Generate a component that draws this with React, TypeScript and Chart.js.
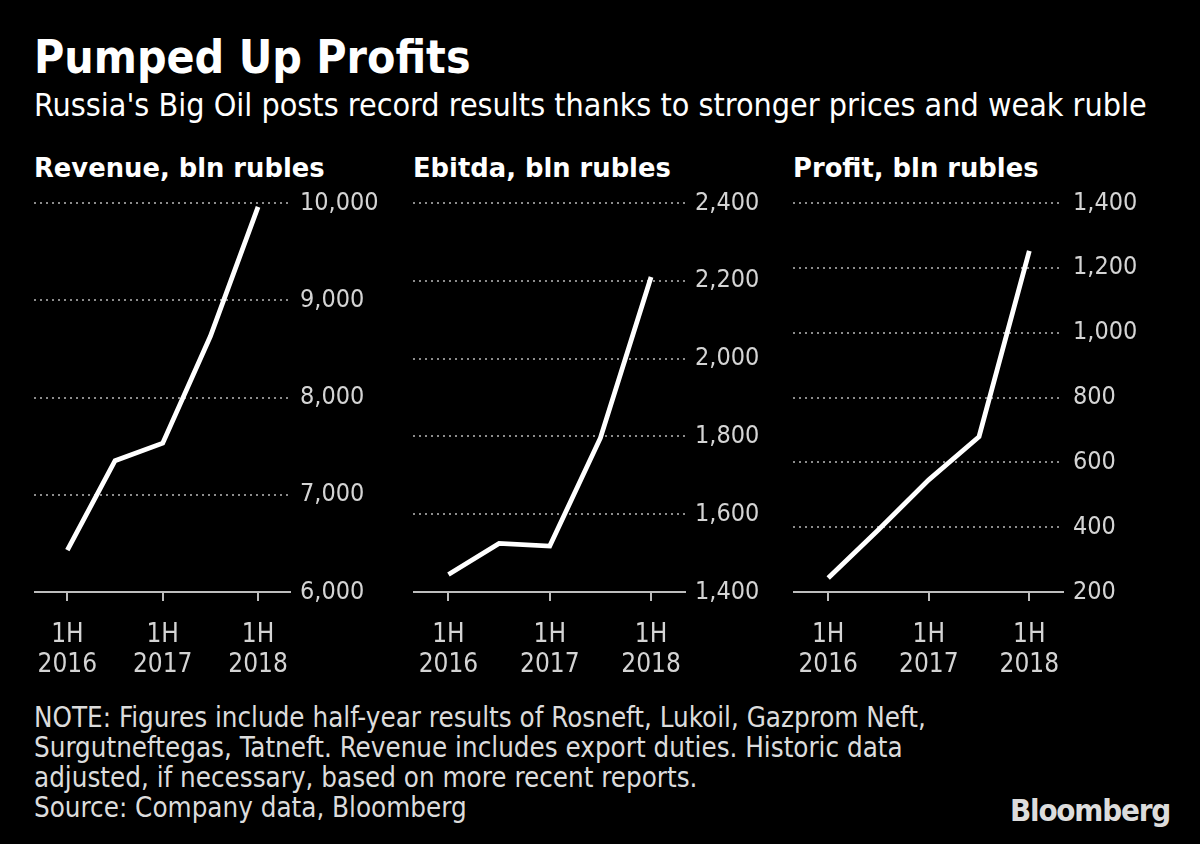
import React, { useEffect, useRef } from "react";
import { Chart, registerables } from "chart.js";

Chart.register(...registerables);

const periods = ["1H 2016", "2H 2016", "1H 2017", "2H 2017", "1H 2018"];
const xTickIndexes = [0, 2, 4];
const xTickLabels = [["1H", "2016"], ["1H", "2017"], ["1H", "2018"]];

const revenue = [6430, 7350, 7530, 8630, 9960];
const ebitda = [1445, 1525, 1518, 1796, 2210];
const profit = [243, 392, 546, 679, 1252];

const revenueTicks = [6000, 7000, 8000, 9000, 10000];
const ebitdaTicks = [1400, 1600, 1800, 2000, 2200, 2400];
const profitTicks = [200, 400, 600, 800, 1000, 1200, 1400];

const COND = "'DejaVu Sans Condensed', 'DejaVu Sans', sans-serif";
const WIDE = "'DejaVu Sans', sans-serif";

type PanelProps = {
  title: string;
  values: number[];
  ticks: number[];
  left: number;
  plotWidth: number;
};

const TOP = 183;
const PAD_TOP = 20;
const PLOT_BOTTOM = 592;
const X_AXIS_H = 90;
const Y_AXIS_W = 100;

function Panel({ title, values, ticks, left, plotWidth }: PanelProps) {
  const ref = useRef<HTMLCanvasElement | null>(null);
  const height = PLOT_BOTTOM - TOP + X_AXIS_H;
  const width = plotWidth + Y_AXIS_W;
  useEffect(() => {
    if (!ref.current) return;
    const chart = new Chart(ref.current, {
      type: "line",
      data: {
        labels: periods,
        datasets: [
          {
            data: values.map((v, i) => ({ x: i, y: v })),
            borderColor: "#ffffff",
            borderWidth: 4.8,
            pointRadius: 0,
            tension: 0,
            fill: false,
          },
        ],
      },
      options: {
        animation: false,
        responsive: false,
        maintainAspectRatio: false,
        layout: { padding: { top: PAD_TOP, left: 0, right: 0, bottom: 0 } },
        plugins: { legend: { display: false }, tooltip: { enabled: false }, title: { display: false } },
        scales: {
          x: {
            type: "linear",
            min: -0.7,
            max: 4.67,
            afterBuildTicks: (axis: any) => {
              axis.ticks = xTickIndexes.map((v) => ({ value: v }));
            },
            afterFit: (axis: any) => {
              axis.height = X_AXIS_H;
              axis.paddingLeft = 0;
              axis.paddingRight = 0;
            },
            ticks: {
              autoSkip: false,
              maxRotation: 0,
              padding: 19,
              color: "#d4d4d4",
              font: { family: COND, size: 26, lineHeight: 1.15 },
              callback: (v: any) => {
                const idx = xTickIndexes.indexOf(Number(v));
                return idx >= 0 ? xTickLabels[idx] : "";
              },
            },
            grid: {
              drawOnChartArea: false,
              drawTicks: true,
              tickLength: 9,
              color: "#bdbdbd",
              lineWidth: 2,
            },
            border: { display: true, color: "#bdbdbd", width: 2 },
          },
          y: {
            type: "linear",
            position: "right",
            min: ticks[0],
            max: ticks[ticks.length - 1],
            afterBuildTicks: (axis: any) => {
              axis.ticks = ticks.map((v) => ({ value: v }));
            },
            afterFit: (axis: any) => {
              axis.width = Y_AXIS_W;
              axis.paddingTop = 0;
              axis.paddingBottom = 0;
            },
            ticks: {
              padding: 10,
              color: "#d4d4d4",
              font: { family: COND, size: 25 },
              callback: (v: any) => Number(v).toLocaleString("en-US"),
            },
            grid: {
              drawTicks: false,
              color: (ctx: any) => (ctx.tick && ctx.tick.value === ticks[0] ? "rgba(0,0,0,0)" : "#8c8c8c"),
              lineWidth: 2,
            },
            border: { display: false, dash: [2, 4] },
          },
        },
      },
    } as any);
    return () => chart.destroy();
  }, []);
  return (
    <>
      <div
        style={{
          position: "absolute",
          left: left,
          top: 152,
          fontFamily: WIDE,
          fontWeight: "bold",
          fontSize: 25.8,
          color: "#ffffff",
          whiteSpace: "nowrap",
          lineHeight: "32px",
        }}
      >
        {title}
      </div>
      <canvas
        ref={ref}
        width={width}
        height={height}
        style={{ position: "absolute", left: left, top: TOP, width, height }}
      />
    </>
  );
}

const noteLines = [
  "NOTE: Figures include half-year results of Rosneft, Lukoil, Gazprom Neft,",
  "Surgutneftegas, Tatneft. Revenue includes export duties. Historic data",
  "adjusted, if necessary, based on more recent reports.",
  "Source: Company data, Bloomberg",
];

export default function App() {
  return (
    <div
      style={{
        position: "absolute",
        left: 0,
        top: 0,
        width: 1200,
        height: 844,
        background: "#000000",
        overflow: "hidden",
      }}
    >
      <div
        style={{
          position: "absolute",
          left: 34,
          top: 30,
          fontFamily: COND,
          fontWeight: "bold",
          fontSize: 46,
          color: "#ffffff",
          whiteSpace: "nowrap",
          lineHeight: "54px",
        }}
      >
        Pumped Up Profits
      </div>
      <div
        style={{
          position: "absolute",
          left: 34,
          top: 86,
          fontFamily: COND,
          fontSize: 32,
          color: "#ffffff",
          whiteSpace: "nowrap",
          lineHeight: "38px",
        }}
      >
        Russia's Big Oil posts record results thanks to stronger prices and weak ruble
      </div>
      <Panel title="Revenue, bln rubles" values={revenue} ticks={revenueTicks} left={34} plotWidth={256} />
      <Panel title="Ebitda, bln rubles" values={ebitda} ticks={ebitdaTicks} left={413} plotWidth={272} />
      <Panel title="Profit, bln rubles" values={profit} ticks={profitTicks} left={793} plotWidth={270} />
      <div
        style={{
          position: "absolute",
          left: 34,
          top: 702,
          fontFamily: COND,
          fontSize: 27.5,
          color: "#dcdcdc",
          lineHeight: "30px",
          whiteSpace: "nowrap",
        }}
      >
        {noteLines.map((l, i) => (
          <div key={i}>{l}</div>
        ))}
      </div>
      <div
        style={{
          position: "absolute",
          right: 30,
          top: 792,
          fontFamily: COND,
          fontWeight: "bold",
          fontSize: 31,
          letterSpacing: -1.2,
          color: "#dcdcdc",
          whiteSpace: "nowrap",
          lineHeight: "36px",
        }}
      >
        Bloomberg
      </div>
    </div>
  );
}
